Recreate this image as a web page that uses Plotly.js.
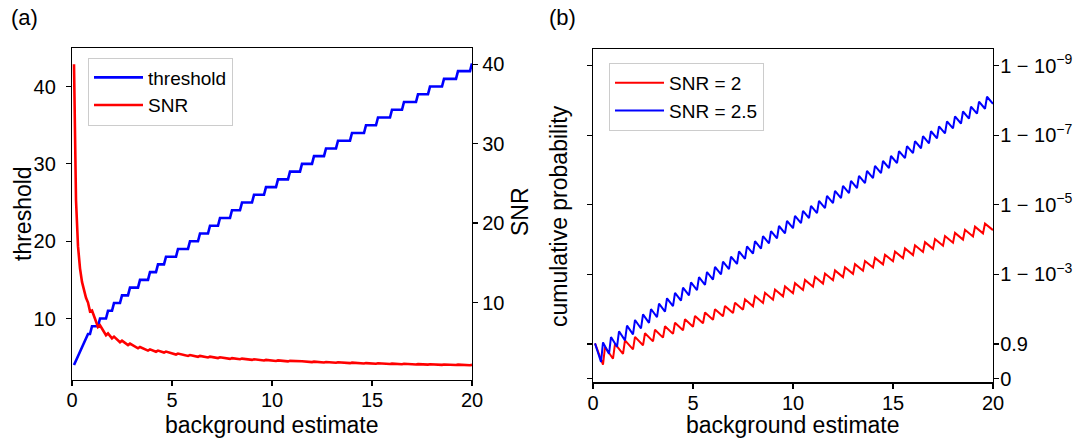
<!DOCTYPE html>
<html>
<head>
<meta charset="utf-8">
<script src="https://cdn.plot.ly/plotly-3.0.1.min.js"></script>
<style>
html, body { margin: 0; padding: 0; background: #ffffff; }
#chart { width: 1089px; height: 440px; }
</style>
</head>
<body>
<div id="chart"></div>
<script>
// ---------- Panel (a): threshold staircase (each flat level, first and last background sample) ----------
const thrLevel = [4, 8, 9, 10, 11, 12, 13, 14, 15, 16, 17, 18, 19, 20, 21, 22, 23, 24, 25, 26, 27, 28, 29, 30, 31, 32, 33, 34, 35, 36, 37, 38, 39, 40, 41, 42, 43];
const thrStart = [0.1, 0.8, 1.0, 1.4, 1.8, 2.1, 2.5, 2.9, 3.4, 3.9, 4.3, 4.7, 5.3, 5.9, 6.4, 6.9, 7.4, 8.0, 8.5, 9.1, 9.7, 10.3, 10.9, 11.5, 12.1, 12.7, 13.3, 14.0, 14.7, 15.3, 16.0, 16.6, 17.3, 17.9, 18.6, 19.3, 20.0];
const thrEnd   = [0.1, 0.9, 1.3, 1.7, 2.0, 2.4, 2.8, 3.3, 3.8, 4.2, 4.6, 5.2, 5.8, 6.3, 6.8, 7.3, 7.9, 8.4, 9.0, 9.6, 10.2, 10.8, 11.4, 12.0, 12.6, 13.2, 13.9, 14.6, 15.2, 15.9, 16.5, 17.2, 17.8, 18.5, 19.2, 19.9, 20.0];

// ---------- Panel (a): SNR ----------
const snrBackground = [0.1, 0.2, 0.3, 0.4, 0.5, 0.6, 0.7, 0.8, 0.9, 1.0, 1.3, 1.4, 1.7, 1.8, 2.0, 2.1, 2.4, 2.5, 2.8, 2.9, 3.3, 3.4, 3.8, 3.9, 4.2, 4.3, 4.6, 4.7, 5.2, 5.3, 5.8, 5.9, 6.3, 6.4, 6.8, 6.9, 7.3, 7.4, 7.9, 8.0, 8.4, 8.5, 9.0, 9.1, 9.6, 9.7, 10.2, 10.3, 10.8, 10.9, 11.4, 11.5, 12.0, 12.1, 12.6, 12.7, 13.2, 13.3, 13.9, 14.0, 14.6, 14.7, 15.2, 15.3, 15.9, 16.0, 16.5, 16.6, 17.2, 17.3, 17.8, 17.9, 18.5, 18.6, 19.2, 19.3, 19.9, 20.0];
const snrValue = [40.0, 22.9, 17.1, 14.3, 12.6, 11.4, 10.6, 10.0, 8.89, 9.0, 6.92, 7.14, 5.88, 6.11, 5.50, 5.71, 5.00, 5.20, 4.64, 4.83, 4.24, 4.41, 3.95, 4.10, 3.81, 3.95, 3.70, 3.83, 3.46, 3.58, 3.28, 3.39, 3.17, 3.28, 3.09, 3.19, 3.01, 3.11, 2.91, 3.00, 2.86, 2.94, 2.78, 2.86, 2.71, 2.78, 2.65, 2.72, 2.59, 2.66, 2.54, 2.61, 2.50, 2.56, 2.46, 2.52, 2.42, 2.48, 2.37, 2.43, 2.33, 2.38, 2.30, 2.35, 2.26, 2.31, 2.24, 2.29, 2.21, 2.25, 2.19, 2.23, 2.16, 2.20, 2.14, 2.18, 2.11, 2.15];

// ---------- Panel (b): cumulative probability, plotted as -log10(1 - p) ----------
const snr2Background = [0.1, 0.5, 0.6, 1.0, 1.1, 1.5, 1.6, 2.0, 2.1, 2.5, 2.6, 3.0, 3.1, 3.5, 3.6, 4.0, 4.1, 4.5, 4.6, 5.0, 5.1, 5.5, 5.6, 6.0, 6.1, 6.5, 6.6, 7.0, 7.1, 7.5, 7.6, 8.0, 8.1, 8.5, 8.6, 9.0, 9.1, 9.5, 9.6, 10.0, 10.1, 10.5, 10.6, 11.0, 11.1, 11.5, 11.6, 12.0, 12.1, 12.5, 12.6, 13.0, 13.1, 13.5, 13.6, 14.0, 14.1, 14.5, 14.6, 15.0, 15.1, 15.5, 15.6, 16.0, 16.1, 16.5, 16.6, 17.0, 17.1, 17.5, 17.6, 18.0, 18.1, 18.5, 18.6, 19.0, 19.1, 19.5, 19.6, 20.0];
const snr2Level = [1.020, 0.405, 0.914, 0.578, 1.002, 0.719, 1.104, 0.845, 1.207, 0.963, 1.310, 1.076, 1.411, 1.185, 1.511, 1.291, 1.611, 1.395, 1.711, 1.497, 1.808, 1.597, 1.905, 1.697, 2.000, 1.796, 2.095, 1.893, 2.189, 1.987, 2.284, 2.085, 2.378, 2.180, 2.471, 2.275, 2.564, 2.370, 2.657, 2.462, 2.750, 2.554, 2.841, 2.646, 2.932, 2.738, 3.024, 2.832, 3.115, 2.924, 3.205, 3.016, 3.295, 3.108, 3.386, 3.200, 3.476, 3.290, 3.567, 3.379, 3.657, 3.468, 3.747, 3.557, 3.837, 3.646, 3.926, 3.735, 4.016, 3.824, 4.105, 3.913, 4.194, 4.002, 4.283, 4.090, 4.372, 4.180, 4.460, 4.274];

const snr25Background = [0.1, 0.4, 0.5, 0.8, 0.9, 1.2, 1.3, 1.6, 1.7, 2.0, 2.1, 2.4, 2.5, 2.8, 2.9, 3.2, 3.3, 3.6, 3.7, 4.0, 4.1, 4.4, 4.5, 4.8, 4.9, 5.2, 5.3, 5.6, 5.7, 6.0, 6.1, 6.4, 6.5, 6.8, 6.9, 7.2, 7.3, 7.6, 7.7, 8.0, 8.1, 8.4, 8.5, 8.8, 8.9, 9.2, 9.3, 9.6, 9.7, 10.0, 10.1, 10.4, 10.5, 10.8, 10.9, 11.2, 11.3, 11.6, 11.7, 12.0, 12.1, 12.4, 12.5, 12.8, 12.9, 13.2, 13.3, 13.6, 13.7, 14.0, 14.1, 14.4, 14.5, 14.8, 14.9, 15.2, 15.3, 15.6, 15.7, 16.0, 16.1, 16.4, 16.5, 16.8, 16.9, 17.2, 17.3, 17.6, 17.7, 18.0, 18.1, 18.4, 18.5, 18.8, 18.9, 19.2, 19.3, 19.6, 19.7, 20.0];
const snr25Level = [1.020, 0.482, 1.045, 0.719, 1.202, 0.919, 1.366, 1.104, 1.529, 1.279, 1.690, 1.447, 1.850, 1.610, 2.006, 1.774, 2.160, 1.932, 2.315, 2.090, 2.469, 2.245, 2.620, 2.398, 2.771, 2.551, 2.921, 2.703, 3.070, 2.854, 3.218, 3.003, 3.366, 3.152, 3.513, 3.300, 3.661, 3.449, 3.808, 3.597, 3.954, 3.743, 4.100, 3.890, 4.246, 4.036, 4.392, 4.182, 4.538, 4.328, 4.682, 4.473, 4.826, 4.618, 4.971, 4.762, 5.115, 4.907, 5.259, 5.052, 5.402, 5.196, 5.546, 5.339, 5.689, 5.483, 5.832, 5.626, 5.975, 5.770, 6.118, 5.913, 6.260, 6.056, 6.403, 6.199, 6.545, 6.342, 6.688, 6.485, 6.830, 6.627, 6.972, 6.769, 7.115, 6.911, 7.257, 7.054, 7.399, 7.196, 7.540, 7.338, 7.682, 7.479, 7.823, 7.621, 7.965, 7.762, 8.106, 7.904];

// ---------- tick labels ----------
const xTicks = [0, 5, 10, 15, 20];
const aTicks = [10, 20, 30, 40];
const bTickVals = [0, 1, 3, 5, 7, 9];
const bTickText = ['0', '0.9', '1 \u2212 10<sup>\u22123</sup>', '1 \u2212 10<sup>\u22125</sup>', '1 \u2212 10<sup>\u22127</sup>', '1 \u2212 10<sup>\u22129</sup>'];

// build the staircase polyline from the flat levels
const thrX = [], thrY = [];
for (let i = 0; i < thrLevel.length; i++) {
  thrX.push(thrStart[i]); thrY.push(thrLevel[i]);
  if (thrEnd[i] > thrStart[i]) { thrX.push(thrEnd[i]); thrY.push(thrLevel[i]); }
}

const FONT = 'Liberation Sans, Arial, sans-serif';
const W = 1089, H = 440;
const px = v => v / W;
const py = v => 1 - v / H;

const traces = [
  { x: thrX, y: thrY, xaxis: 'x', yaxis: 'y', mode: 'lines', name: 'threshold',
    line: { color: '#0000ff', width: 2.6 }, legend: 'legend' },
  { x: snrBackground, y: snrValue, xaxis: 'x', yaxis: 'y2', mode: 'lines', name: 'SNR',
    line: { color: '#ff0000', width: 2.6 }, legend: 'legend' },
  { x: snr2Background, y: snr2Level, xaxis: 'x2', yaxis: 'y3', mode: 'lines', name: 'SNR = 2',
    line: { color: '#ff0000', width: 2 }, legend: 'legend2' },
  { x: snr25Background, y: snr25Level, xaxis: 'x2', yaxis: 'y4', mode: 'lines', name: 'SNR = 2.5',
    line: { color: '#0000ff', width: 2 }, legend: 'legend2' }
];

const axisCommon = {
  showline: true, linecolor: '#000000', linewidth: 1.2,
  ticks: 'outside', ticklen: 5, tickwidth: 1.2, tickcolor: '#000000',
  showgrid: false, zeroline: false,
  tickfont: { family: FONT, size: 20, color: '#000000' },
  fixedrange: true
};

const legendCommon = {
  xanchor: 'left', yanchor: 'top',
  bgcolor: 'rgba(255,255,255,0.85)', bordercolor: '#cccccc', borderwidth: 1,
  font: { family: FONT, size: 19, color: '#000000' }, tracegroupgap: 0, itemwidth: 49
};

const layout = {
  width: W, height: H,
  margin: { l: 0, r: 0, t: 0, b: 0, pad: 0 },
  paper_bgcolor: '#ffffff', plot_bgcolor: '#ffffff',
  font: { family: FONT, color: '#000000' },
  showlegend: true,
  xaxis: Object.assign({}, axisCommon, {
    domain: [px(72), px(472)], range: [0, 20], tickvals: xTicks, anchor: 'y', mirror: true,
    ticklabelstandoff: -3
  }),
  yaxis: Object.assign({}, axisCommon, {
    domain: [py(380), py(48.3)], range: [2.05, 44.95], tickvals: aTicks, anchor: 'x', side: 'left',
    ticklabelstandoff: 6
  }),
  yaxis2: Object.assign({}, axisCommon, {
    domain: [py(380), py(48.3)], range: [0.25, 42.0], tickvals: aTicks, anchor: 'x',
    overlaying: 'y', side: 'right'
  }),
  xaxis2: Object.assign({}, axisCommon, {
    domain: [px(593), px(993)], range: [0, 20], tickvals: xTicks, anchor: 'y3', mirror: true,
    ticklabelstandoff: -3
  }),
  yaxis3: Object.assign({}, axisCommon, {
    domain: [py(382.3), py(49.3)], range: [-0.1, 9.47], tickvals: bTickVals,
    showticklabels: false, anchor: 'x2', side: 'left'
  }),
  yaxis4: Object.assign({}, axisCommon, {
    domain: [py(382.3), py(49.3)], range: [-0.1, 9.47], tickvals: bTickVals, ticktext: bTickText,
    anchor: 'x2', overlaying: 'y3', side: 'right', ticklabelstandoff: -3
  }),
  legend: Object.assign({}, legendCommon, { x: px(88), y: py(57.5) }),
  legend2: Object.assign({}, legendCommon, { x: px(609), y: py(63) }),
  annotations: [
    { text: '(a)', x: px(25), y: py(18), xref: 'paper', yref: 'paper', showarrow: false,
      font: { family: FONT, size: 22 }, xanchor: 'center', yanchor: 'middle' },
    { text: '(b)', x: px(562), y: py(18), xref: 'paper', yref: 'paper', showarrow: false,
      font: { family: FONT, size: 22 }, xanchor: 'center', yanchor: 'middle' },
    { text: 'threshold', x: px(23), y: py(214), xref: 'paper', yref: 'paper', showarrow: false,
      textangle: -90, font: { family: FONT, size: 23 }, xanchor: 'center', yanchor: 'middle' },
    { text: 'SNR', x: px(520), y: py(212), xref: 'paper', yref: 'paper', showarrow: false,
      textangle: -90, font: { family: FONT, size: 23 }, xanchor: 'center', yanchor: 'middle' },
    { text: 'background estimate', x: px(272), y: py(425), xref: 'paper', yref: 'paper', showarrow: false,
      font: { family: FONT, size: 23 }, xanchor: 'center', yanchor: 'middle' },
    { text: 'cumulative probability', x: px(559), y: py(216), xref: 'paper', yref: 'paper', showarrow: false,
      textangle: -90, font: { family: FONT, size: 23 }, xanchor: 'center', yanchor: 'middle' },
    { text: 'background estimate', x: px(793), y: py(425), xref: 'paper', yref: 'paper', showarrow: false,
      font: { family: FONT, size: 23 }, xanchor: 'center', yanchor: 'middle' }
  ]
};

Plotly.newPlot('chart', traces, layout, { displayModeBar: false, staticPlot: true });
</script>
</body>
</html>
